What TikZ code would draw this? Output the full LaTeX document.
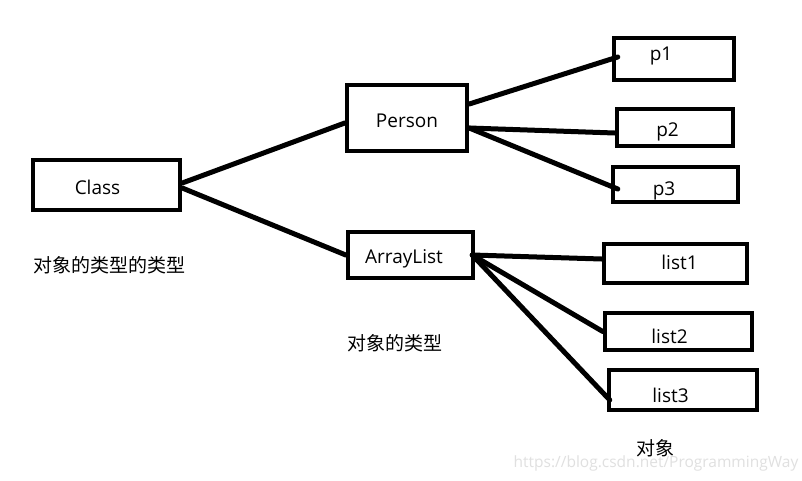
\documentclass[tikz,border=0pt]{standalone}
\usepackage{fontspec}
\setmainfont{Open Sans}
\newfontfamily\cjk{Noto Sans CJK SC}
\usetikzlibrary{calc}
\tikzset{
  box/.style={draw=black, line width=4.5pt, rectangle, inner sep=0pt},
  lbl/.style={anchor=base, inner sep=0pt, font=\fontsize{19pt}{22pt}\selectfont},
  cjklbl/.style={anchor=center, inner sep=0pt, font=\cjk\fontsize{19pt}{22pt}\selectfont},
  conn/.style={line width=5pt, line cap=round, draw=black},
  wm/.style={anchor=center, inner sep=0pt, text=black!12, font=\fontsize{15.5pt}{18pt}\selectfont}
}
\begin{document}
\begin{tikzpicture}[x=1pt,y=-1pt]
\useasboundingbox[fill=white] (0,0) rectangle (802,480);
% boxes
\node[box, minimum width=147pt, minimum height=50pt] (class) at (106.5,185) {};
\node[box, minimum width=120pt, minimum height=66pt] (person) at (407,118) {};
\node[box, minimum width=125pt, minimum height=46pt] (alist) at (410.5,255) {};
\node[box, minimum width=120pt, minimum height=42pt] (p1) at (674,59) {};
\node[box, minimum width=116pt, minimum height=37pt] (p2) at (675,127.5) {};
\node[box, minimum width=125pt, minimum height=35pt] (p3) at (675.5,184.5) {};
\node[box, minimum width=143pt, minimum height=39pt] (list1) at (675.5,263.5) {};
\node[box, minimum width=147pt, minimum height=37pt] (list2) at (678.5,331.5) {};
\node[box, minimum width=148pt, minimum height=40pt] (list3) at (683,390) {};
% box texts
\node[lbl] (tclass) at (97.5,194) {Class};
\node[lbl] (tperson) at (407,127) {Person};
\node[lbl] (talist) at (404,263) {ArrayList};
\node[lbl] (tp1) at (661,60) {p1};
\node[lbl] (tp2) at (667.5,136) {p2};
\node[lbl] (tp3) at (664,195) {p3};
\node[lbl] (tl1) at (679.5,269) {list1};
\node[lbl] (tl2) at (669.5,343) {list2};
\node[lbl] (tl3) at (670.5,402) {list3};
% captions
\node[cjklbl] (c1) at (109,265) {对象的类型的类型};
\node[cjklbl] (c2) at (395,343.5) {对象的类型};
\node[cjklbl] (c3) at (655,448.5) {对象};
\node[wm] (wmark) at (656,463.5) {https://blog.csdn.net/ProgrammingWay};
% connectors
\coordinate (pr) at ([yshift=-10pt]person.east);
\draw[conn] ([yshift=2pt]class.east) -- ([yshift=-5pt]person.west);
\draw[conn] ([yshift=-3pt]class.east) -- (alist.west);
\draw[conn] ([yshift=14pt]person.east) -- ([xshift=6pt,yshift=2pt]p1.west);
\draw[conn] (pr) -- ([yshift=-5.5pt]p2.west);
\draw[conn] (pr) -- ([xshift=7pt,yshift=-4.5pt]p3.west);
\draw[conn] ([xshift=-3pt]alist.east) -- ([yshift=4.5pt]list1.west);
\draw[conn] ([xshift=-3pt]alist.east) -- (list2.west);
\draw[conn] ([xshift=-3pt]alist.east) -- ([xshift=3pt,yshift=-10pt]list3.west);
\end{tikzpicture}
\end{document}
